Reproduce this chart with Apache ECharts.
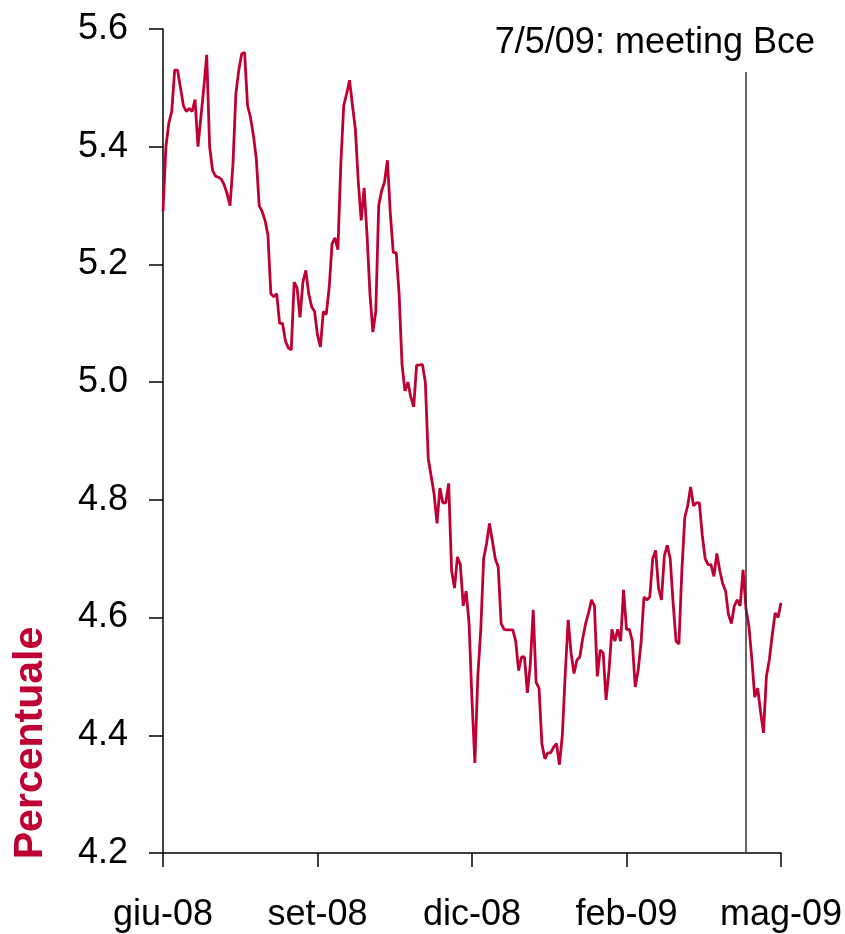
<!DOCTYPE html>
<html>
<head>
<meta charset="utf-8">
<style>
  html, body { margin: 0; padding: 0; background: #fff; }
  #chart { width: 845px; height: 934px; }
</style>
<script src="https://cdn.jsdelivr.net/npm/echarts@6/dist/echarts.min.js"></script>
</head>
<body>
<div id="chart"></div>
<script>
// Month labels shown on the horizontal axis, one every pointsPerTick observations
const tickLabels = ['giu-08', 'set-08', 'dic-08', 'feb-09', 'mag-09'];
const pointsPerTick = 53;

// Daily yield (%), June 2008 - May 2009
const rates = [
  5.29, 5.40, 5.44, 5.46, 5.53, 5.53, 5.50, 5.47, 5.46, 5.465,
  5.46, 5.48, 5.40, 5.45, 5.50, 5.556, 5.40, 5.36, 5.35, 5.348,
  5.345, 5.335, 5.32, 5.30, 5.37, 5.49, 5.53, 5.558, 5.56, 5.47,
  5.45, 5.42, 5.38, 5.30, 5.29, 5.275, 5.25, 5.15, 5.145, 5.15,
  5.10, 5.10, 5.07, 5.058, 5.055, 5.17, 5.16, 5.11, 5.17, 5.19,
  5.15, 5.128, 5.12, 5.08, 5.06, 5.12, 5.115, 5.16, 5.235, 5.245,
  5.225, 5.37, 5.47, 5.49, 5.513, 5.47, 5.43, 5.34, 5.275, 5.33,
  5.25, 5.15, 5.085, 5.12, 5.30, 5.325, 5.34, 5.377, 5.285, 5.22,
  5.22, 5.15, 5.03, 4.985, 5.00, 4.975, 4.958, 5.029, 5.029, 5.03,
  5.00, 4.87, 4.84, 4.81, 4.76, 4.82, 4.795, 4.795, 4.828, 4.68,
  4.65, 4.703, 4.69, 4.62, 4.645, 4.59, 4.46, 4.353, 4.50, 4.578,
  4.70, 4.726, 4.76, 4.73, 4.70, 4.686, 4.59, 4.58, 4.579, 4.579,
  4.579, 4.56, 4.51, 4.533, 4.533, 4.472, 4.52, 4.613, 4.49, 4.48,
  4.385, 4.36, 4.37, 4.37, 4.38, 4.386, 4.35, 4.40, 4.505, 4.596,
  4.54, 4.505, 4.528, 4.533, 4.565, 4.59, 4.608, 4.63, 4.62, 4.50,
  4.545, 4.54, 4.46, 4.51, 4.58, 4.56, 4.58, 4.56, 4.647, 4.58,
  4.58, 4.56, 4.482, 4.51, 4.557, 4.635, 4.63, 4.635, 4.70, 4.714,
  4.65, 4.63, 4.705, 4.723, 4.70, 4.625, 4.56, 4.555, 4.68, 4.77,
  4.79, 4.822, 4.79, 4.795, 4.795, 4.74, 4.70, 4.69, 4.69, 4.67,
  4.709, 4.68, 4.658, 4.645, 4.605, 4.59, 4.62, 4.63, 4.62, 4.681,
  4.615, 4.585, 4.53, 4.465, 4.48, 4.44, 4.404, 4.50, 4.528, 4.57,
  4.608, 4.60, 4.625
];

// ECB meeting marker (7 May 2009)
const meetingIndex = 200;
const meetingLabel = '7/5/09: meeting Bce';
const markerTop = 5.527;

const categories = rates.map((_, i) => String(i));

const FONT = '"Liberation Sans", Arial, sans-serif';
const RED = '#BE0032';

const chart = echarts.init(document.getElementById('chart'), null, { renderer: 'canvas' });

chart.setOption({
  animation: false,
  textStyle: { fontFamily: FONT },
  grid: { left: 163, right: 61, top: 29, bottom: 81 },
  title: {
    text: meetingLabel,
    right: 25,
    top: 20,
    textStyle: { fontSize: 36, fontWeight: 'normal', color: '#000', fontFamily: FONT }
  },
  graphic: [{
    type: 'text',
    x: 31,
    y: 743,
    rotation: Math.PI / 2,
    style: {
      text: 'Percentuale',
      fill: RED,
      font: 'bold 41px ' + FONT,
      textAlign: 'center',
      textVerticalAlign: 'middle'
    }
  }],
  xAxis: {
    type: 'category',
    data: categories,
    boundaryGap: false,
    axisLine: { lineStyle: { color: '#000', width: 1.5 } },
    axisTick: { show: true, interval: pointsPerTick - 1, length: 14, lineStyle: { color: '#000', width: 1.5 } },
    axisLabel: {
      interval: pointsPerTick - 1,
      margin: 44,
      fontSize: 36,
      color: '#000',
      fontFamily: FONT,
      formatter: (v, idx) => tickLabels[Math.round(idx / pointsPerTick)] || ''
    },
    splitLine: { show: false }
  },
  yAxis: {
    type: 'value',
    min: 4.2,
    max: 5.6,
    interval: 0.2,
    axisLine: { show: true, lineStyle: { color: '#000', width: 1.5 } },
    axisTick: { show: true, length: 14, lineStyle: { color: '#000', width: 1.5 } },
    axisLabel: {
      margin: 35,
      fontSize: 36,
      color: '#000',
      fontFamily: FONT,
      formatter: v => v.toFixed(1)
    },
    splitLine: { show: false }
  },
  series: [{
    type: 'line',
    data: rates,
    showSymbol: false,
    lineStyle: { color: RED, width: 2.8 },
    markLine: {
      silent: true,
      symbol: 'none',
      label: { show: false },
      lineStyle: { color: '#333', width: 1.5, type: 'solid' },
      data: [[
        { coord: [categories[meetingIndex], 4.2] },
        { coord: [categories[meetingIndex], markerTop] }
      ]]
    }
  }]
});
</script>
</body>
</html>
